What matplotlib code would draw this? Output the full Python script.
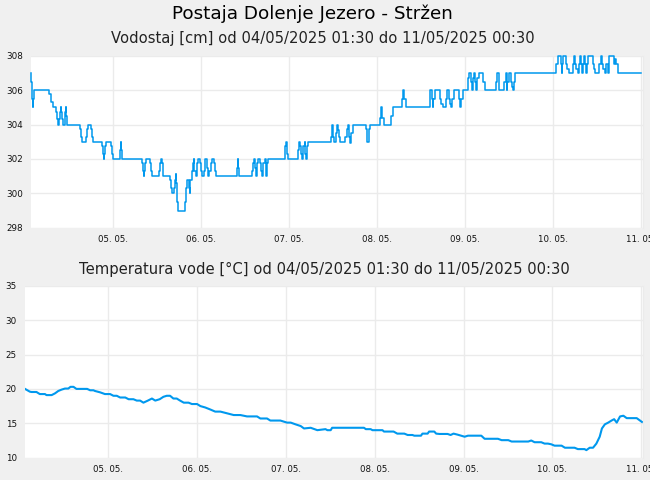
import datetime as dt
import matplotlib
matplotlib.use("Agg")
import matplotlib.pyplot as plt
import matplotlib.dates as mdates

# ---------------- data ----------------
start = dt.datetime(2025, 5, 4, 1, 30)
end = dt.datetime(2025, 5, 11, 0, 30)

# water level: change points (hours after start, value in cm)
level_hours = [
    0, 0.1, 0.3, 0.5, 0.6, 0.85,
    4.9, 5.4, 5.9,
    6.95, 7.2, 7.45, 7.7, 7.9, 8.05, 8.2, 8.5, 8.7, 9.2, 9.4, 9.5, 9.6, 9.95,
    13.4, 13.65, 13.9, 15.0, 15.3, 15.6, 16.4, 16.65, 16.9,
    19.4, 19.65, 19.9, 20.0, 20.25, 20.5, 21.8, 22.1, 22.4,
    24.3, 24.45, 24.55, 24.8,
    30.3, 30.6, 30.8, 30.9, 31.1, 31.4, 32.5, 32.75, 33.0,
    35.0, 35.3, 35.6, 35.85, 36.1,
    38.0, 38.3, 38.6, 39.1, 39.4, 39.55, 39.7, 39.9, 40.2,
    41.9, 42.2, 42.7, 43.0, 43.3, 43.5, 43.8, 44.1, 44.4, 44.6, 44.9, 45.2,
    45.45, 46.0, 46.3, 46.6, 47.1, 47.4, 47.6, 47.9, 48.2, 48.4, 48.7, 49.0,
    49.3, 49.8, 50.1, 50.4,
    56.2, 56.35, 56.5, 56.8,
    60.4, 60.6, 60.8, 61.0, 61.3, 61.6, 62.0, 62.6, 62.85, 63.1, 63.4, 63.8,
    64.0, 64.2, 64.4, 64.6,
    69.2, 69.4, 69.6, 69.9, 70.2,
    72.8, 73.1, 73.4, 73.7, 74.0, 74.3, 74.7, 74.9, 75.1, 75.4, 75.7,
    81.9, 82.2, 82.5, 82.8, 83.2, 83.5, 83.7, 84.0, 84.4,
    85.8, 86.2, 86.5, 86.8, 87.0, 87.3, 87.8,
    91.5, 91.8, 92.1, 92.4,
    95.3, 95.6, 95.9, 96.3,
    98.3, 98.8,
    101.3, 101.5, 101.9, 102.4,
    108.8, 109.0, 109.4, 109.6, 109.8, 110.2,
    111.7, 112.0, 112.4,
    113.2, 113.5, 114.0, 114.3, 114.6, 114.8, 115.3,
    116.8, 117.0, 117.2, 117.4, 117.8,
    119.3, 119.6, 120.0, 120.4, 120.6, 120.9, 121.2, 121.5, 121.7, 122.2,
    123.3, 123.8,
    126.9, 127.2, 127.6, 127.8,
    129.2, 129.5, 129.8, 130.0, 130.4, 130.9, 131.2, 131.5, 131.8, 132.1,
    143.3, 143.8, 144.5, 144.8, 145.0, 145.2, 146.0, 146.3, 146.7,
    147.8, 148.2, 148.5, 148.8, 149.2, 149.5, 149.7, 150.0, 150.3, 150.6,
    150.8, 151.1, 151.4, 151.7, 152.1,
    153.3, 153.6, 153.9,
    155.1, 155.5, 155.9, 156.2, 156.5, 156.8, 157.1, 157.4, 157.8,
    159.0, 159.4, 159.7, 160.1,
    166.5,
]
level_cm = [
    307, 306.5, 305.5, 305, 305.5, 306,
    305.75, 305.3, 305,
    304.7, 304.3, 304, 304.3, 304.7, 305, 304.7, 304.3, 304, 304.3, 304.7, 305, 304.5, 304,
    303.75, 303.3, 303, 303.3, 303.75, 304, 303.75, 303.3, 303,
    302.75, 302.3, 302, 302.3, 302.75, 303, 302.75, 302.3, 302,
    302.5, 303, 302.5, 302,
    301.75, 301.3, 301, 301.3, 301.75, 302, 301.75, 301.3, 301,
    301.3, 301.75, 302, 301.75, 301,
    300.75, 300.3, 300, 300.3, 300.75, 301.1, 300.6, 299.5, 299,
    299.5, 300.3, 300.8, 300.3, 300, 300.8, 301.3, 301.75, 302, 301.3, 301, 301.75,
    302, 301.75, 301.3, 301, 301.3, 301.75, 302, 301.5, 301.3, 301, 301.3, 301.75,
    302, 301.75, 301.3, 301,
    301.5, 302, 301.5, 301,
    301.3, 301.75, 302, 301.5, 301, 301.75, 302, 301.75, 301.3, 301, 301.75, 302,
    301.3, 301, 301.75, 302,
    302.3, 302.75, 303, 302.3, 302,
    302.5, 303, 302.75, 302.3, 302, 302.75, 303, 302.3, 302, 302.75, 303,
    303.3, 304, 303.3, 303, 303.5, 304, 303.7, 303.3, 303,
    303.3, 303.75, 304, 303.3, 302.9, 303.5, 304,
    303.75, 303, 303.75, 304,
    304.4, 305, 304.4, 304,
    304.5, 305,
    305.5, 306, 305.5, 305,
    305.5, 306, 305.5, 305, 305.5, 306,
    305.5, 305.2, 305,
    305.5, 306, 305.5, 305.2, 305, 305.5, 306,
    305.5, 305.2, 305, 305.5, 306,
    306.7, 307, 306.5, 306, 306.7, 307, 306.5, 306, 306.7, 307,
    306.5, 306,
    306.5, 307, 306.5, 306,
    306.5, 307, 306, 306.5, 307, 306.5, 306.2, 306, 306.5, 307,
    307.5, 308, 307.5, 307, 307.5, 308, 307.5, 307.2, 307,
    307.5, 308, 307.5, 307.2, 307, 307.5, 308, 307.5, 307, 307.5,
    308, 307.5, 307, 307.5, 308,
    307.5, 307.2, 307,
    307.5, 308, 307.5, 307.2, 307, 307.5, 307.5, 307, 308,
    307.5, 307.8, 307.5, 307,
    307,
]

# water temperature (hours after start, degrees C)
temp_hours = [
    0, 1.3, 1.75, 3.1, 4.0, 5.4, 5.8, 7.2, 8.1, 9.0, 9.9, 10.8, 11.7, 12.3, 13.1,
    13.9, 16.8, 17.6, 18.5, 18.9, 20.3, 21.6, 23.0, 23.9, 24.8, 25.7, 27.1,
    28.0, 29.3, 30.2, 31.1, 32.0, 33.2, 34.3, 35.2, 36.4, 37.4, 38.3, 39.2,
    40.1, 41.0, 41.9, 42.9, 44.2, 45.1, 46.5, 47.4, 48.7, 50.1, 51.4, 52.8,
    54.6, 56.4, 58.2, 60.0, 62.7, 63.6, 65.4, 66.3, 69.0, 70.8, 71.8, 73.1,
    74.5, 75.4, 77.2, 79.0, 81.2, 81.7, 82.6, 83.0, 91.6, 92.1, 93.4, 93.9,
    96.6, 97.0, 99.6, 100.6, 102.5, 103.4, 104.7, 105.2, 107.0, 107.4, 108.8,
    109.2, 110.6, 111.1, 112.0, 113.3, 114.2, 115.0, 115.8, 116.9, 117.8,
    118.8, 119.7, 123.3, 124.2, 127.8, 128.8, 130.6, 131.5, 136.0, 136.8,
    137.7, 139.5, 140.4, 141.3, 142.2, 143.1, 145.0, 145.9, 148.5, 149.4,
    151.2, 151.7, 152.6, 153.5, 154.4, 155.3, 155.9, 156.7, 157.6, 158.5,
    159.2, 159.9, 160.8, 161.7, 162.6, 165.3, 166.2, 166.7,
]
temp_c = [
    20.0, 19.6, 19.55, 19.55, 19.25, 19.25, 19.1, 19.1, 19.35, 19.7, 19.9, 20.05, 20.05, 20.3, 20.3,
    20.0, 20.0, 19.8, 19.8, 19.7, 19.5, 19.25, 19.25, 19.0, 19.0, 18.75, 18.75,
    18.5, 18.5, 18.3, 18.3, 18.0, 18.3, 18.6, 18.3, 18.5, 18.85, 19.0, 19.0,
    18.6, 18.6, 18.3, 18.0, 18.0, 17.8, 17.8, 17.5, 17.3, 17.0, 16.7, 16.7,
    16.45, 16.2, 16.2, 16.0, 16.0, 15.7, 15.7, 15.4, 15.4, 15.1, 15.1, 14.85,
    14.6, 14.25, 14.35, 14.0, 14.15, 14.0, 14.0, 14.35, 14.35, 14.15, 14.15, 14.0,
    14.0, 13.8, 13.8, 13.5, 13.5, 13.3, 13.3, 13.2, 13.2, 13.5, 13.5,
    13.8, 13.8, 13.5, 13.45, 13.45, 13.45, 13.3, 13.5, 13.35, 13.2,
    13.05, 13.2, 13.2, 12.75, 12.75, 12.55, 12.55, 12.35, 12.35, 12.5,
    12.25, 12.25, 12.05, 12.05, 11.95, 11.75, 11.75, 11.45, 11.45, 11.25,
    11.25, 11.1, 11.45, 11.45, 12.05, 13.05, 14.25, 14.85, 15.1, 15.4,
    15.6, 15.1, 16.0, 16.1, 15.75, 15.75, 15.4, 15.2,
]

level_ticks = [298, 300, 302, 304, 306, 308]
temp_ticks = [10, 15, 20, 25, 30, 35]

title = "Postaja Dolenje Jezero - Stržen"
sub_level = "Vodostaj [cm] od 04/05/2025 01:30 do 11/05/2025 00:30"
sub_temp = "Temperatura vode [°C] od 04/05/2025 01:30 do 11/05/2025 00:30"

# ---------------- plot ----------------
LINE = "#0098ee"
GRID = "#ebebeb"
BG = "#f0f0f0"

plt.rcParams["font.family"] = ["DejaVu Sans"]

fig = plt.figure(figsize=(6.5, 4.8), dpi=100, facecolor=BG)

ax1 = fig.add_axes([31 / 650, 1 - 227.7 / 480, 612 / 650, 172 / 480])
ax2 = fig.add_axes([25 / 650, 1 - 457.7 / 480, 618 / 650, 172 / 480])

lt = [start + dt.timedelta(hours=h) for h in level_hours]
tt = [start + dt.timedelta(hours=h) for h in temp_hours]

ax1.plot(lt, level_cm, color=LINE, lw=1.1, drawstyle="steps-post", clip_on=False, zorder=3)
ax2.plot(tt, temp_c, color=LINE, lw=1.5, zorder=3)

ax1.set_ylim(298, 308)
ax1.set_yticks(level_ticks)
ax2.set_ylim(10, 35)
ax2.set_yticks(temp_ticks)

for ax in (ax1, ax2):
    ax.set_facecolor("white")
    ax.set_xlim(start, end)
    ax.xaxis.set_major_locator(mdates.DayLocator())
    ax.xaxis.set_major_formatter(mdates.DateFormatter("%d. %m."))
    ax.grid(True, color=GRID, lw=1.0, zorder=0)
    ax.set_axisbelow(True)
    for s in ("top", "bottom", "left"):
        ax.spines[s].set_visible(False)
    ax.spines["right"].set_color(GRID)
    ax.spines["right"].set_linewidth(1.0)
    ax.tick_params(axis="both", length=0, colors="#111111")
    ax.tick_params(axis="x", labelsize=6.2, pad=5.5)
    ax.tick_params(axis="y", labelsize=6.3, pad=5.8)

fig.text(312 / 650, 1 - 14 / 480, title, ha="center", va="center", fontsize=13.2, color="#000000")
fig.text(323 / 650, 1 - 39 / 480, sub_level, ha="center", va="center", fontsize=10.65, color="#222222")
fig.text(324 / 650, 1 - 269.5 / 480, sub_temp, ha="center", va="center", fontsize=10.65, color="#222222")

fig.savefig("out.png", dpi=100, facecolor=BG)
